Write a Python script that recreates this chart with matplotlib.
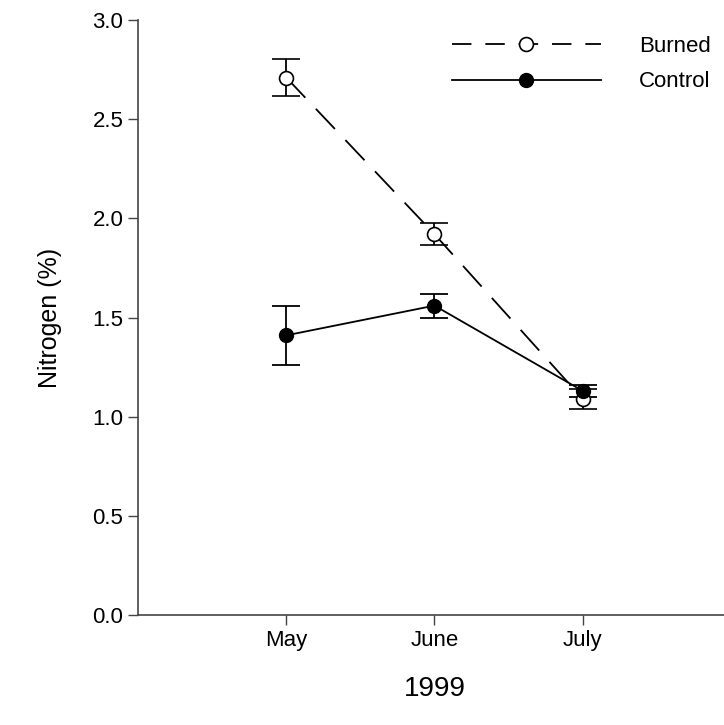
import matplotlib.pyplot as plt
from matplotlib.lines import Line2D
import numpy as np

plt.rcParams['font.family'] = ['Liberation Sans', 'DejaVu Sans']
plt.rcParams['lines.scale_dashes'] = False

months = ['May', 'June', 'July']
burned = np.array([2.71, 1.92, 1.09])
burned_err = np.array([0.095, 0.055, 0.05])
control = np.array([1.41, 1.56, 1.13])
control_err = np.array([0.15, 0.06, 0.03])

x = np.arange(1, len(months) + 1)
dash = (0, (20, 11))

fig = plt.figure(figsize=(7.24, 7.25), dpi=100)
ax = fig.add_axes([0.1906, 0.1517, 0.819, 0.8207])

ax.errorbar(x, burned, yerr=burned_err, color='black', linestyle=dash, lw=1.3,
            marker='o', markersize=10, markerfacecolor='white', markeredgecolor='black',
            markeredgewidth=1.2, capsize=10, elinewidth=1.3, capthick=1.3)
ax.errorbar(x, control, yerr=control_err, color='black', linestyle='-', lw=1.3,
            marker='o', markersize=10, markerfacecolor='black', markeredgecolor='black',
            capsize=10, elinewidth=1.3, capthick=1.3)

ax.set_xlim(0, 4)
ax.set_ylim(0, 3.0)
ax.set_xticks(x)
ax.set_xticklabels(months)
ax.set_yticks(np.arange(0, 3.01, 0.5))
ax.set_yticklabels(['%.1f' % v for v in np.arange(0, 3.01, 0.5)])
ax.tick_params(labelsize=16, direction='out', length=7, width=1, color='#444444')
ax.spines['top'].set_visible(False)
ax.spines['right'].set_visible(False)
for s in ['left', 'bottom']:
    ax.spines[s].set_color('#444444')
    ax.spines[s].set_linewidth(1.2)

ax.set_ylabel('Nitrogen (%)', fontsize=18, labelpad=22)
ax.set_xlabel('1999', fontsize=20, labelpad=18)

handles = [
    Line2D([], [], color='black', linestyle=(0, (14, 10)), lw=1.3, marker='o', markersize=10,
           markerfacecolor='white', markeredgecolor='black', markeredgewidth=1.2),
    Line2D([], [], color='black', linestyle='-', lw=1.3, marker='o', markersize=10,
           markerfacecolor='black', markeredgecolor='black'),
]
fig.legend(handles, ['Burned', 'Control'], loc='upper left',
           bbox_to_anchor=(432 / 724, 1 - 16 / 725), frameon=False,
           fontsize=16, handlelength=6.7, handletextpad=1.7, labelspacing=0.65,
           numpoints=1)

fig.savefig('out.png', dpi=100)
